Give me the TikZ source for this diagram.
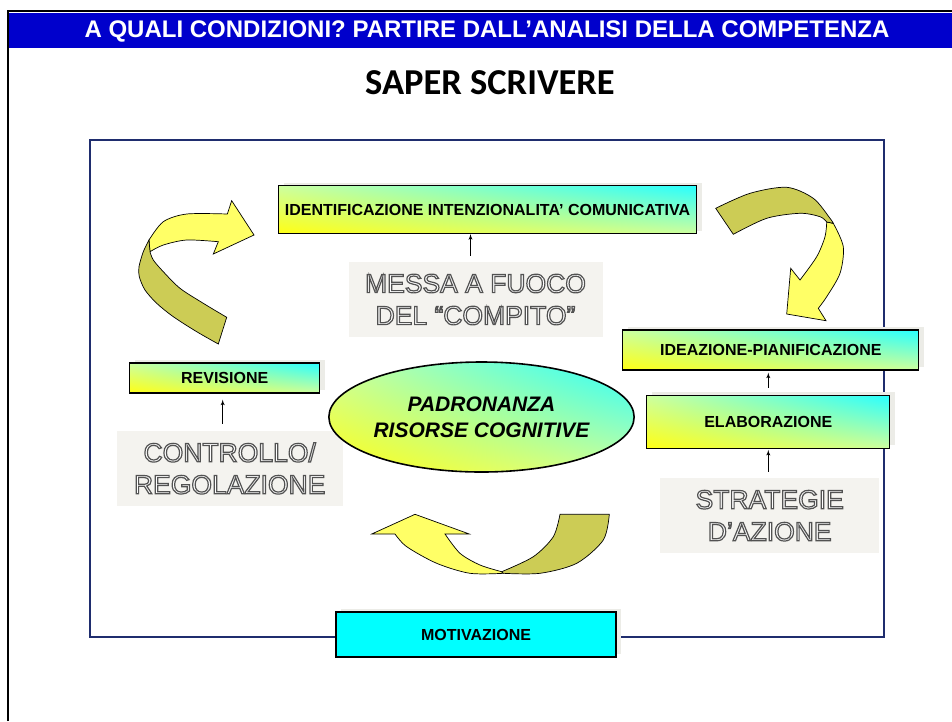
\documentclass[tikz,border=0pt]{standalone}
\usepackage{fontspec}
\setmainfont{Liberation Sans}
\newfontfamily\calibrifont{Carlito}
\usetikzlibrary{shapes,arrows,positioning,shadows,shadings}

\definecolor{barblue}{RGB}{0,0,204}
\definecolor{framenavy}{RGB}{31,45,110}
\definecolor{ribbonyellow}{RGB}{255,255,102}
\definecolor{ribbonolive}{RGB}{204,204,85}
\definecolor{labelgray}{RGB}{244,243,239}
\definecolor{shadegray}{RGB}{236,236,231}
\definecolor{gradyellow}{RGB}{255,255,20}
\definecolor{gradcyan}{RGB}{40,255,255}
\definecolor{gradmid}{RGB}{205,255,160}
\definecolor{boxcyan}{RGB}{0,255,255}

% white letters with a grey outline (fill and stroke render mode)
\newcommand{\embossed}[1]{\textcolor{white}{\special{pdf:literal direct 2 Tr 0.32 G 1.2 w}#1\special{pdf:literal direct 0 Tr 0 G 0.4 w}}}

\tikzstyle{base} = [rectangle, draw, line width=1.3pt, inner sep=0pt,
    font=\fontsize{16}{18}\selectfont\bfseries,
    drop shadow={shadow xshift=5pt, shadow yshift=3pt, fill=shadegray, opacity=1}]
\tikzstyle{phase} = [base, upper left=gradmid, upper right=gradcyan,
    lower left=gradyellow, lower right=gradmid]
\tikzstyle{cue} = [rectangle, fill=labelgray, inner sep=0pt, align=center,
    font=\fontsize{26.5}{32}\selectfont]
\tikzstyle{core} = [ellipse, draw, line width=1.6pt, inner sep=0pt, align=center,
    upper left=gradmid, upper right=gradcyan, lower left=gradyellow, lower right=gradmid,
    font=\fontsize{21}{26}\selectfont\bfseries\itshape]
\tikzstyle{line} = [draw, -latex', line width=0.9pt]
\tikzstyle{ribbonfront} = [fill=ribbonyellow, draw=black, line width=0.7pt]
\tikzstyle{ribbonback} = [fill=ribbonolive, draw=black, line width=0.7pt]

\begin{document}
\begin{tikzpicture}[x=1pt, y=-1pt]
    \useasboundingbox (0,0) rectangle (952,721);
    % Slide frame and heading
    \fill [barblue] (9,13) rectangle (952,48);
    \draw [line width=2pt] (8,721) -- (8,11) -- (952,11);
    \node [text=white, font=\fontsize{24}{26}\selectfont\bfseries] (heading) at (487,31)
        {A QUALI CONDIZIONI? PARTIRE DALL’ANALISI DELLA COMPETENZA};
    \node [font=\calibrifont\fontsize{36.5}{40}\selectfont\bfseries] (title) at (490,83)
        {SAPER SCRIVERE};
    \draw [framenavy, line width=2.5pt] (90,140) rectangle (884,637);
    % Place nodes
    \node [phase, minimum width=418pt, minimum height=48pt] (ident) at (487.5,209.5)
        {IDENTIFICAZIONE INTENZIONALITA’ COMUNICATIVA};
    \node [cue, minimum width=254pt, minimum height=75pt] (focus) at (475.5,299.5)
        {\embossed{MESSA A FUOCO}\\\embossed{DEL “COMPITO”}};
    \node [phase, minimum width=296pt, minimum height=40pt] (plan) at (770.8,350)
        {IDEAZIONE-PIANIFICAZIONE};
    \node [phase, minimum width=243pt, minimum height=53pt, below=24pt of plan, xshift=-2.5pt] (elab)
        {ELABORAZIONE};
    \node [cue, minimum width=219pt, minimum height=75pt, below=29pt of elab, xshift=1.4pt] (strat)
        {\embossed{STRATEGIE}\\\embossed{D’AZIONE}};
    \node [phase, minimum width=190pt, minimum height=30pt] (review) at (224.7,378)
        {REVISIONE};
    \node [cue, minimum width=226pt, minimum height=75pt, below=37pt of review, xshift=5pt] (control)
        {\embossed{CONTROLLO/}\\\embossed{REGOLAZIONE}};
    \node [core, minimum width=245pt, minimum height=110pt] (mastery) at (481.5,417)
        {PADRONANZA\\RISORSE COGNITIVE};
    \node [base, fill=boxcyan, minimum width=280pt, minimum height=45pt] (motiv) at (476,634.5)
        {MOTIVAZIONE};
    % Draw edges
    \path [line, shorten <=6pt] ([xshift=-5pt]focus.north) -- ([xshift=-5pt]focus.north |- ident.south);
    \path [line, shorten <=7pt, shorten >=2pt] (elab.north) -- (elab.north |- plan.south);
    \path [line, shorten <=6pt, shorten >=1pt] (strat.north -| elab) -- (elab.south);
    \path [line, shorten <=7pt, shorten >=6pt] ([xshift=-2pt]control.north -| review.south) -- ([xshift=-2pt]review.south);
    % Ribbon arrows
    \filldraw [ribbonfront] plot [smooth] coordinates {(149,240) (163.3,221.7) (186.7,214) (227.3,214)}
        -- (231.7,200.7) -- (254,235) -- (213.3,254) -- (218.3,241.7)
        -- plot [smooth] coordinates {(218.3,241.7) (186.7,240) (163.3,245) (150,251.7)} -- cycle;
    \filldraw [ribbonback] plot [smooth] coordinates {(149,240) (143.3,251.7) (139,266.7) (139.3,276.7)
        (145,290) (156.7,303.3) (173.3,316.7) (196.7,331.7) (218.3,344)}
        -- (226.7,317.3)
        -- plot [smooth] coordinates {(226.7,317.3) (203.3,303.3) (180,288.3) (163.3,271.7) (153.3,260) (150,251.7)} -- cycle;
    \filldraw [ribbonfront] plot [smooth] coordinates {(826.7,222) (825,236.7) (816.7,256.7) (800,280)}
        -- (790.7,268.3) -- (786.7,314) -- (826,320.7) -- (818.3,308.3)
        -- plot [smooth] coordinates {(818.3,308.3) (826.7,296.7) (840,273.3) (843.3,246.7) (833.3,223.3)} -- cycle;
    \filldraw [ribbonback] plot [smooth] coordinates {(715.7,208.3) (750,193.3) (786.7,187.3) (813.3,198.3)
        (830,218.3) (833.3,223.3)}
        -- plot [smooth] coordinates {(826.7,222) (820,216.7) (800,213.3) (766.7,218.3) (733.3,234.3)} -- cycle;
    \filldraw [ribbonfront] plot [smooth] coordinates {(501.7,571.7) (480,565) (460,553.3) (445,534)}
        -- (469.3,534) -- (415,514.3) -- (371.7,534) -- (395,534)
        -- plot [smooth] coordinates {(395,534) (406.7,546.7) (436.7,563.3) (470,573.3) (503.3,573.3)} -- cycle;
    \filldraw [ribbonback] (560,514.3) -- (609.3,514.3)
        -- plot [smooth] coordinates {(609.3,514.3) (603.3,540) (576.7,563.3) (540,573.3) (503.3,573.3)}
        -- plot [smooth] coordinates {(501.7,571.7) (533.3,556.7) (553.3,536.7) (560,514.3)} -- cycle;
\end{tikzpicture}
\end{document}
